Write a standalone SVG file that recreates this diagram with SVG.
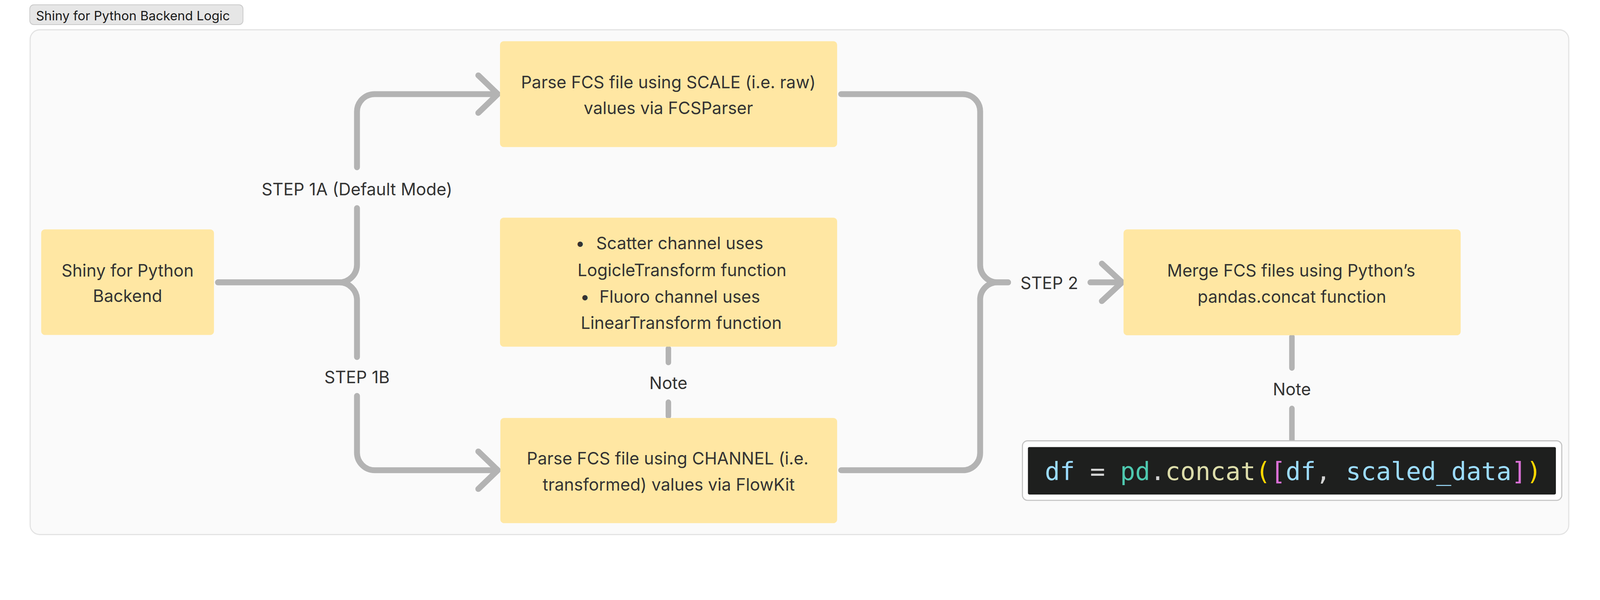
<svg xmlns="http://www.w3.org/2000/svg" width="4352" height="1536" viewBox="0 0 4352 1536" preserveAspectRatio="xMidYMin meet">
<style>
svg{width:100vw;height:100vh;}
.node rect{fill:#ffe7a3;}
.t{font-family:Inter,"Liberation Sans",sans-serif;font-size:46px;fill:#333333;text-anchor:middle;}
.lbl{font-family:Inter,"Liberation Sans",sans-serif;font-size:46px;fill:#333333;text-anchor:middle;}
.conn{fill:none;stroke:#b3b3b3;stroke-width:16;stroke-linecap:round;stroke-linejoin:round;}
.note{fill:none;stroke:#b3b3b3;stroke-width:15;stroke-linecap:round;}
.code{font-family:"DejaVu Sans Mono","Liberation Mono",monospace;font-size:68px;}
</style>
<rect width="4352" height="1536" fill="#ffffff"/>
<g id="title">
<rect x="81" y="13" width="580" height="54" rx="11" fill="#e6e6e6" stroke="#c9c9c9" stroke-width="2"/>
<text x="98" y="55" font-family="Inter,'Liberation Sans',sans-serif" font-size="35" fill="#1a1a1a">Shiny for Python Backend Logic</text>
</g>
<g id="container">
<rect x="82" y="81" width="4185" height="1373" rx="26" fill="#fafafa" stroke="#e3e3e3" stroke-width="3"/>
</g>
<g id="connectors">
<path class="conn" d="M593,768 H923 A48,48 0 0 0 971,720 V566"/>
<path class="conn" d="M971,455 V304 A48,48 0 0 1 1019,256 H1352 M1301,205 L1354,256 L1301,307"/>
<path class="conn" d="M593,768 H923 A48,48 0 0 1 971,816 V971"/>
<path class="conn" d="M971,1077 V1231 A48,48 0 0 0 1019,1279 H1352 M1301,1228 L1354,1279 L1301,1330"/>
<path class="conn" d="M2288,256 H2619 A47,47 0 0 1 2666,303 V721 A47,47 0 0 0 2713,768 H2742"/>
<path class="conn" d="M2288,1279 H2619 A47,47 0 0 0 2666,1232 V815 A47,47 0 0 1 2713,768 H2742"/>
<path class="conn" d="M2966,768 H3050 M2997,717 L3052,768 L2997,819"/>
<path class="note" d="M1818,948 V986 M1818,1094 V1132"/>
<path class="note" d="M3514,916 V1001 M3514,1111 V1197"/>
<text class="lbl" x="971" y="531">STEP 1A (Default Mode)</text>
<text class="lbl" x="971" y="1042">STEP 1B</text>
<text class="lbl" x="2854" y="786">STEP 2</text>
<text class="lbl" x="1818" y="1058">Note</text>
<text class="lbl" x="3514" y="1075">Note</text>
</g>
<g id="node-shiny" class="node">
<rect x="112" y="624" width="470" height="287" rx="10"/>
<text class="t" x="347" y="752">Shiny for Python</text>
<text class="t" x="347" y="821">Backend</text>
</g>
<g id="node-scale" class="node">
<rect x="1360" y="112" width="917" height="288" rx="10"/>
<text class="t" x="1818" y="240">Parse FCS file using SCALE (i.e. raw)</text>
<text class="t" x="1818" y="310">values via FCSParser</text>
</g>
<g id="node-notes" class="node">
<rect x="1360" y="592" width="917" height="351" rx="10"/>
<text class="t" x="1578" y="678">•</text>
<text class="t" x="1849" y="678">Scatter channel uses</text>
<text class="t" x="1855" y="751">LogicleTransform function</text>
<text class="t" x="1591" y="823">•</text>
<text class="t" x="1849" y="823">Fluoro channel uses</text>
<text class="t" x="1853" y="895">LinearTransform function</text>
</g>
<g id="node-channel" class="node">
<rect x="1361" y="1137" width="916" height="286" rx="10"/>
<text class="t" x="1816" y="1263">Parse FCS file using CHANNEL (i.e.</text>
<text class="t" x="1819" y="1335">transformed) values via FlowKit</text>
</g>
<g id="node-merge" class="node">
<rect x="3056" y="624" width="917" height="288" rx="10"/>
<text class="t" x="3512" y="752">Merge FCS files using Python’s</text>
<text class="t" x="3514" y="823">pandas.concat function</text>
</g>
<g id="node-code">
<rect x="2781" y="1199" width="1467" height="162" rx="14" fill="#ffffff" stroke="#c4c4c4" stroke-width="3"/>
<rect x="2796" y="1216" width="1436" height="129" rx="4" fill="#1e1f1e"/>
<text class="code" x="2842" y="1306" xml:space="preserve"><tspan fill="#9cdcfe">df</tspan><tspan fill="#d4d4d4"> = </tspan><tspan fill="#4ec9b0">pd</tspan><tspan fill="#d4d4d4">.</tspan><tspan fill="#dcdcaa">concat</tspan><tspan fill="#ffd700">(</tspan><tspan fill="#da70d6">[</tspan><tspan fill="#9cdcfe">df</tspan><tspan fill="#d4d4d4">, </tspan><tspan fill="#9cdcfe">scaled_data</tspan><tspan fill="#da70d6">]</tspan><tspan fill="#ffd700">)</tspan></text>
</g>
</svg>
